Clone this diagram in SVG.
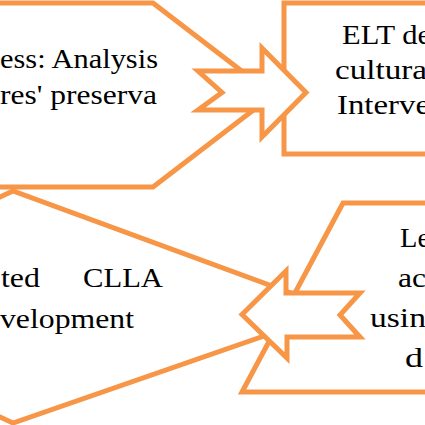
<svg xmlns="http://www.w3.org/2000/svg" width="425" height="425" viewBox="0 0 425 425">
<style>
.box{fill:none;stroke:#F79646;stroke-width:5;stroke-linejoin:miter}
.arrow{fill:#ffffff;stroke:#F79646;stroke-width:5;stroke-linejoin:miter}
.t{font-family:"Liberation Serif","Times New Roman",serif;font-size:28px;fill:#000}
</style>
<rect x="0" y="0" width="425" height="425" fill="#ffffff"/>
<g id="node-process">
<polygon class="box" points="-60,3 153,3 273,95 153,187 -60,187"/>
<text class="t" x="0" y="68" textLength="158" lengthAdjust="spacingAndGlyphs">ess: Analysis</text>
<text class="t" x="0" y="104" textLength="157" lengthAdjust="spacingAndGlyphs">res' preserva</text>
</g>
<g id="node-elt">
<rect class="box" x="284" y="3" width="180" height="151"/>
<text class="t" x="342" y="44" textLength="89" lengthAdjust="spacingAndGlyphs">ELT de</text>
<text class="t" x="335" y="79" textLength="92" lengthAdjust="spacingAndGlyphs">cultura</text>
<text class="t" x="337" y="114" textLength="93" lengthAdjust="spacingAndGlyphs">Interve</text>
</g>
<g id="node-clla">
<polygon class="box" points="-240,307 13,191 310,300 310,320 13,423"/>
<text class="t" x="1" y="287" textLength="39" lengthAdjust="spacingAndGlyphs">ted</text>
<text class="t" x="83" y="287" textLength="80" lengthAdjust="spacingAndGlyphs">CLLA</text>
<text class="t" x="0" y="328" textLength="134" lengthAdjust="spacingAndGlyphs">velopment</text>
</g>
<g id="node-learning">
<polygon class="box" points="343,203 460,203 460,392 242,392"/>
<text class="t" x="400" y="247" textLength="30" lengthAdjust="spacingAndGlyphs">Le</text>
<text class="t" x="398" y="287" textLength="28" lengthAdjust="spacingAndGlyphs">ac</text>
<text class="t" x="370" y="327" textLength="56" lengthAdjust="spacingAndGlyphs">usin</text>
<text class="t" x="405" y="367" textLength="18" lengthAdjust="spacingAndGlyphs">d</text>
</g>
<g id="connectors">
<polygon class="arrow" points="198,71 262,71 262,48 306,92.5 262,137 262,110 198,110 222,92.5"/>
<polygon class="arrow" points="242,314.5 286,271 286,293 360,293 340,315 360,337 287,337 287,358"/>
</g>
</svg>
